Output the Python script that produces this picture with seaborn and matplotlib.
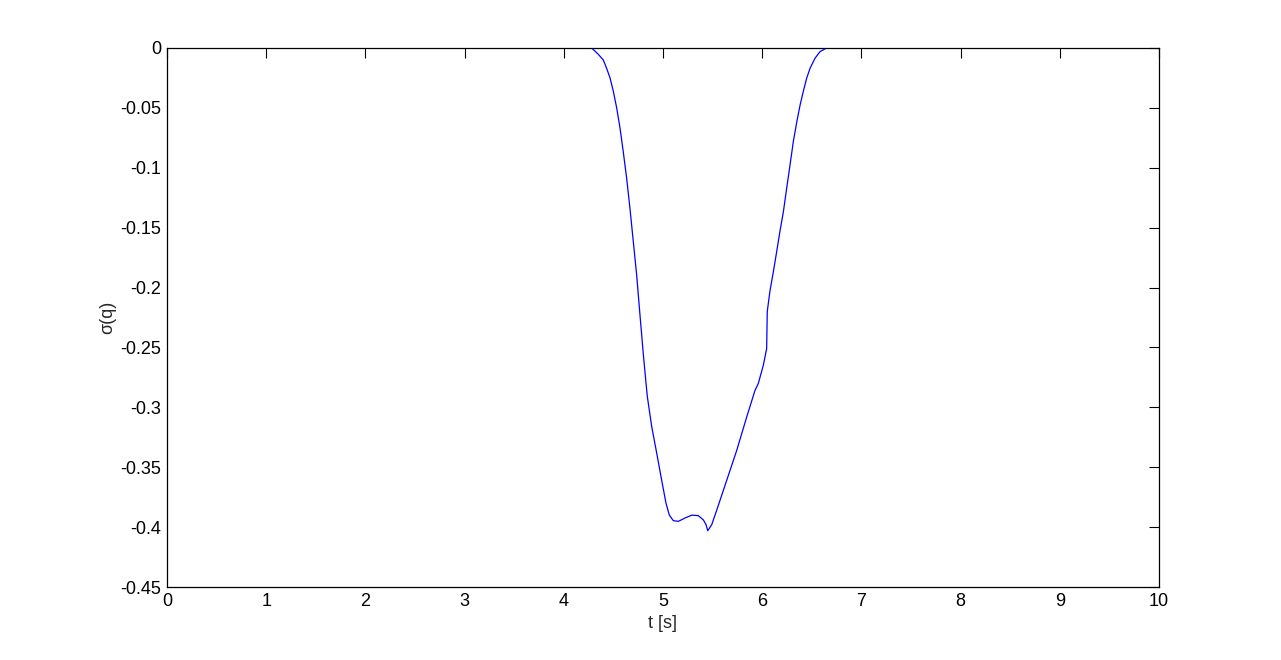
import numpy as np
import pandas as pd
import seaborn as sns
import matplotlib
matplotlib.use("Agg")
import matplotlib.pyplot as plt

# values
t = [0.0, 4.281, 4.348, 4.398, 4.432, 4.466, 4.499, 4.533, 4.567, 4.600,
     4.634, 4.667, 4.701, 4.735, 4.768, 4.802, 4.829, 4.842, 4.886, 4.936,
     4.987, 5.030, 5.064, 5.104, 5.155, 5.222, 5.290, 5.356, 5.407, 5.434,
     5.451, 5.491, 5.541, 5.642, 5.743, 5.844, 5.927, 5.961, 6.011, 6.045,
     6.051, 6.078, 6.112, 6.146, 6.179, 6.213, 6.247, 6.280, 6.314, 6.348,
     6.381, 6.415, 6.449, 6.482, 6.532, 6.583, 6.650, 10.0]
sigma = [0.0, 0.0, -0.0053, -0.010, -0.017, -0.025, -0.036, -0.050, -0.067,
         -0.087, -0.109, -0.134, -0.162, -0.190, -0.223, -0.256, -0.280,
         -0.291, -0.316, -0.338, -0.361, -0.380, -0.390, -0.3946, -0.3952,
         -0.3924, -0.390, -0.3904, -0.394, -0.398, -0.403, -0.398, -0.386,
         -0.361, -0.336, -0.308, -0.286, -0.280, -0.265, -0.251, -0.220,
         -0.203, -0.187, -0.170, -0.153, -0.137, -0.117, -0.098, -0.078,
         -0.062, -0.048, -0.036, -0.025, -0.017, -0.0086, -0.003, 0.0, 0.0]

x_ticks = list(range(0, 11))
y_ticks = [0, -0.05, -0.1, -0.15, -0.2, -0.25, -0.3, -0.35, -0.4, -0.45]
y_labels = ["0", "-0.05", "-0.1", "-0.15", "-0.2", "-0.25", "-0.3", "-0.35", "-0.4", "-0.45"]

df = pd.DataFrame({"t": t, "sigma": sigma})

sns.set_style("white")
plt.rcParams["font.family"] = ["Liberation Sans", "DejaVu Sans"]

fig = plt.figure(figsize=(12.81, 6.60), dpi=100)
ax = fig.add_axes([167 / 1281, 73 / 660, 992 / 1281, 539 / 660])

sns.lineplot(data=df, x="t", y="sigma", color="#0000ff", linewidth=0.9,
             sort=False, estimator=None, ax=ax)

ax.set_xlim(0, 10)
ax.set_ylim(-0.45, 0)
ax.set_xticks(x_ticks)
ax.set_yticks(y_ticks)
ax.set_yticklabels(y_labels)
ax.tick_params(direction="in", length=7, width=0.8, top=True, right=True,
               labelsize=13, colors="black", pad=4)
for s in ax.spines.values():
    s.set_visible(True)
    s.set_color("black")
    s.set_linewidth(0.9)
    s.set_zorder(3)

ax.set_xlabel("t [s]", fontsize=13, labelpad=4)
ax.set_ylabel("σ(q)", fontsize=13, labelpad=3)

fig.savefig("out.png", dpi=100, facecolor="white")
